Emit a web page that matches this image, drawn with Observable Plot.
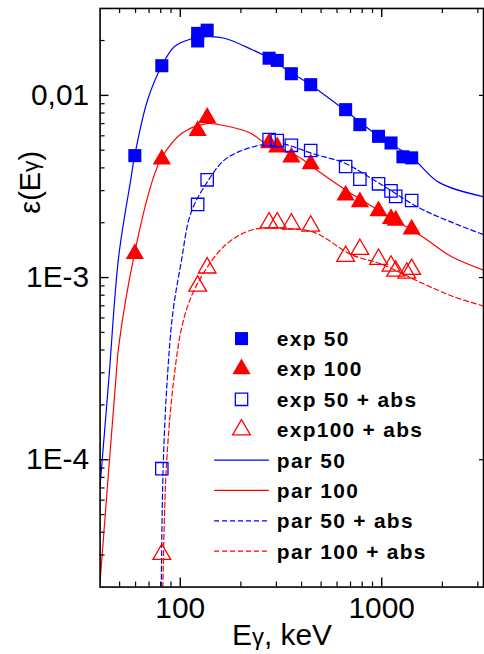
<!DOCTYPE html>
<html><head><meta charset="utf-8">
<script src="https://cdn.jsdelivr.net/npm/d3@7"></script>
<script src="https://cdn.jsdelivr.net/npm/@observablehq/plot@0.6"></script>
<style>html,body{margin:0;padding:0;overflow:hidden;background:#fff}</style>
</head><body><div id="chart"></div>
<script>
// ---- data ----
const exp50E   = [59.5, 81, 122, 122, 136, 276, 303, 356, 444, 662, 779, 964, 1112, 1274, 1408];
const exp50    = [0.00467, 0.01455, 0.0199, 0.0219, 0.0228, 0.0160, 0.01556, 0.01315, 0.01145, 0.00835, 0.00691, 0.00596, 0.00548, 0.0046, 0.00454];
const exp100E  = [59.5, 81, 122, 136, 276, 303, 356, 444, 662, 779, 964, 1112, 1173, 1408];
const exp100   = [0.00135, 0.00446, 0.00639, 0.00755, 0.00548, 0.0052, 0.00457, 0.0042, 0.00283, 0.0026, 0.00232, 0.0021, 0.00206, 0.00184];
const exp50aE  = [81, 122, 136, 276, 303, 356, 444, 662, 779, 964, 1112, 1173, 1408];
const exp50a   = [8.93e-5, 0.00252, 0.00344, 0.00572, 0.00565, 0.00532, 0.00498, 0.00407, 0.00347, 0.00327, 0.00299, 0.00279, 0.00265];
const exp100aE = [81, 122, 136, 276, 303, 356, 444, 662, 779, 964, 1112, 1173, 1332, 1408];
const exp100a  = [3.03e-5, 0.000898, 0.00113, 0.0020, 0.0020, 0.00197, 0.00192, 0.00131, 0.00143, 0.00126, 0.001157, 0.001086, 0.00106, 0.00111];

const par50E   = [40, 44.2, 49.5, 56.8, 59.4, 68.9, 81, 93.7, 113, 138, 166, 228, 277, 356, 442, 652, 970, 1408, 1923, 3200];
const par50    = [7.2e-5, 2.77e-4, 1.31e-3, 3.45e-3, 4.67e-3, 9.47e-3, 0.01455, 0.01855, 0.0204, 0.0210, 0.0206, 0.0178, 0.016, 0.0133, 0.01145, 0.00835, 0.00594, 0.00458, 0.00333, 0.00278];
const par100E  = [40, 47.9, 49.5, 59.4, 73, 81, 101.5, 135, 156, 220, 277, 382, 472, 676, 1560, 2228, 3200];
const par100   = [2.14e-5, 2.77e-4, 4.2e-4, 1.37e-3, 3.45e-3, 4.56e-3, 6.17e-3, 7.0e-3, 6.9e-3, 6.25e-3, 5.26e-3, 4.63e-3, 3.92e-3, 2.98e-3, 1.7e-3, 1.3e-3, 1.1e-3];
const par50aE  = [80.5, 82.2, 86.2, 91.9, 101, 113, 137, 163, 197, 257, 309, 471, 651, 964, 1528, 2153, 3200];
const par50a   = [2.0e-5, 8.9e-5, 2.77e-4, 6.43e-4, 1.21e-3, 2.27e-3, 3.38e-3, 4.35e-3, 4.93e-3, 5.37e-3, 5.47e-3, 4.73e-3, 4.26e-3, 3.31e-3, 2.42e-3, 2.04e-3, 1.72e-3];
const par100aE = [82.0, 85.2, 92.9, 103, 117.7, 153, 188, 233, 316, 462, 702, 1007, 1560, 2240, 3200];
const par100a  = [2.0e-5, 8.9e-5, 2.77e-4, 5.66e-4, 8.6e-4, 1.36e-3, 1.66e-3, 1.84e-3, 1.86e-3, 1.77e-3, 1.34e-3, 1.18e-3, 9.4e-4, 7.9e-4, 6.98e-4];

const xMajor = [100, 1000];
const xMinor = [50, 60, 70, 80, 90, 200, 300, 400, 500, 600, 700, 800, 900, 2000, 3000];
const yMajor = [1e-4, 1e-3, 1e-2];
const yMajorLabels = ["1E-4", "1E-3", "0,01"];
const yMinor = [3e-5, 4e-5, 5e-5, 6e-5, 7e-5, 8e-5, 9e-5, 2e-4, 3e-4, 4e-4, 5e-4, 6e-4, 7e-4, 8e-4, 9e-4,
                2e-3, 3e-3, 4e-3, 5e-3, 6e-3, 7e-3, 8e-3, 9e-3, 2e-2];
const legendLabels = ["exp 50", "exp 100", "exp 50 + abs", "exp100 + abs", "par 50", "par 100", "par 50 + abs", "par 100 + abs"];

// ---- build ----
const blue = "#0000ff", red = "#ff0000";
const pts = (E, V) => E.map((e, i) => ({E: e, v: V[i]}));
const yLab = new Map(yMajor.map((d, i) => [d, yMajorLabels[i]]));

const W = 486, H = 654, mL = 100, mR = 1, mT = 8, mB = 65;
const fw = W - mL - mR, fh = H - mT - mB;
const rSq = 7.4, rTri = 6.8, rOpenSq = 7.0, rOpenTri = 6.6;

const lineOpts = (stroke, dash) => ({x: "E", y: "v", stroke, strokeWidth: 1.2, curve: "catmull-rom", clip: true, strokeDasharray: dash});

const chart = Plot.plot({
  width: W, height: H,
  marginLeft: mL, marginRight: mR, marginTop: mT, marginBottom: mB,
  style: {fontFamily: "'Liberation Sans', Arial, sans-serif", fontSize: "30px", color: "#000", background: "#fff", overflow: "visible"},
  x: {type: "log", domain: [40, 3200], label: null},
  y: {type: "log", domain: [2e-5, 0.03], label: null},
  marks: [
    Plot.line(pts(par50E, par50), lineOpts(blue, null)),
    Plot.line(pts(par100E, par100), lineOpts(red, null)),
    Plot.line(pts(par50aE, par50a), lineOpts(blue, "5,3")),
    Plot.line(pts(par100aE, par100a), lineOpts(red, "5,3")),
    Plot.dot(pts(exp50E, exp50), {x: "E", y: "v", symbol: "square", r: rSq, fill: blue}),
    Plot.dot(pts(exp100E, exp100), {x: "E", y: "v", symbol: "triangle", r: rTri, fill: red}),
    Plot.dot(pts(exp50aE, exp50a), {x: "E", y: "v", symbol: "square", r: rOpenSq, fill: "none", stroke: blue, strokeWidth: 1.3}),
    Plot.dot(pts(exp100aE, exp100a), {x: "E", y: "v", symbol: "triangle", r: rOpenTri, fill: "none", stroke: red, strokeWidth: 1.3}),
    Plot.frame({stroke: "#000", strokeWidth: 1.6}),
    // inward ticks
    Plot.tickX(xMajor, {x: d => d, insetTop: fh - 9, stroke: "#000", strokeWidth: 1.4}),
    Plot.tickX(xMinor, {x: d => d, insetTop: fh - 5, stroke: "#000", strokeWidth: 1.2}),
    Plot.tickX(xMajor, {x: d => d, insetBottom: fh - 9, stroke: "#000", strokeWidth: 1.4}),
    Plot.tickX(xMinor, {x: d => d, insetBottom: fh - 5, stroke: "#000", strokeWidth: 1.2}),
    Plot.tickY(yMajor, {y: d => d, insetRight: fw - 9, stroke: "#000", strokeWidth: 1.4}),
    Plot.tickY(yMinor, {y: d => d, insetRight: fw - 5, stroke: "#000", strokeWidth: 1.2}),
    Plot.tickY(yMajor, {y: d => d, insetLeft: fw - 4, stroke: "#000", strokeWidth: 1.2}),
    Plot.axisX(xMajor, {tickSize: 0, tickPadding: 10, tickFormat: d => String(d), label: null}),
    Plot.axisY(yMajor, {tickSize: 0, tickPadding: 11, tickFormat: d => yLab.get(d), label: null})
  ]
});
document.getElementById("chart").appendChild(chart);

const svg = d3.select(chart);
// y label
const yl = svg.append("text")
  .attr("transform", "translate(30,183) rotate(-90)")
  .attr("text-anchor", "middle").attr("dominant-baseline", "central")
  .attr("font-size", 29).attr("fill", "#000");
yl.append("tspan").text("ε(E");
yl.append("tspan").attr("font-size", 23).text("γ");
yl.append("tspan").text(")");
// x label
const xl = svg.append("text")
  .attr("x", 233).attr("y", 648).attr("text-anchor", "start")
  .attr("font-size", 30).attr("fill", "#000");
xl.append("tspan").text("E");
xl.append("tspan").attr("font-size", 24).text("γ");
xl.append("tspan").text(", keV");

// legend
const lg = svg.append("g").attr("text-anchor", "start");
const rowY = i => 340 + i * 30.5;
const symSize = r => r * r * Math.PI;
const legendSymbols = [
  {type: "sym", sym: d3.symbolSquare, r: rSq, fill: blue, stroke: "none"},
  {type: "sym", sym: d3.symbolTriangle, r: rTri, fill: red, stroke: "none"},
  {type: "sym", sym: d3.symbolSquare, r: rOpenSq, fill: "none", stroke: blue},
  {type: "sym", sym: d3.symbolTriangle, r: rOpenTri, fill: "none", stroke: red},
  {type: "line", stroke: blue, dash: null},
  {type: "line", stroke: red, dash: null},
  {type: "line", stroke: blue, dash: "5,3"},
  {type: "line", stroke: red, dash: "5,3"}
];
legendLabels.forEach((lab, i) => {
  const s = legendSymbols[i], y = rowY(i);
  if (s.type === "sym") {
    lg.append("path").attr("d", d3.symbol(s.sym, symSize(s.r))())
      .attr("transform", `translate(242.5,${y})`)
      .attr("fill", s.fill).attr("stroke", s.stroke).attr("stroke-width", 1.3);
  } else {
    lg.append("line").attr("x1", 215).attr("x2", 270).attr("y1", y).attr("y2", y)
      .attr("stroke", s.stroke).attr("stroke-width", 1.2).attr("stroke-dasharray", s.dash);
  }
  lg.append("text").attr("x", 278).attr("y", y).attr("dominant-baseline", "central")
    .attr("text-anchor", "start")
    .attr("font-size", 21).attr("font-weight", "bold").attr("letter-spacing", "1.3px")
    .attr("fill", "#000").text(lab);
});
</script></body></html>
